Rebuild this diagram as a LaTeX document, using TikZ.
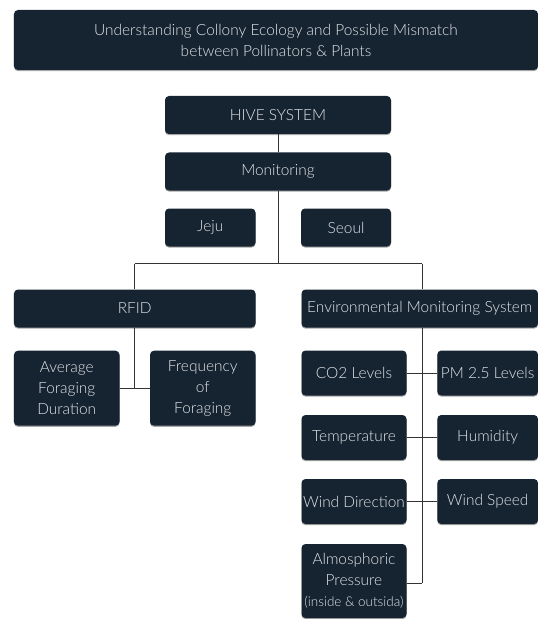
\documentclass[tikz,border=0pt]{standalone}
\usepackage{fontspec}
\setmainfont{Lato}[UprightFont=* Light]
\usetikzlibrary{shadows}
\definecolor{boxfill}{HTML}{162432}
\definecolor{boxtext}{HTML}{E2E5E8}
\definecolor{linec}{HTML}{333333}
\begin{document}
\begin{tikzpicture}[x=1bp,y=-1bp,
  box/.style={rectangle, rounded corners=4bp, fill=boxfill, text=boxtext,
    inner sep=0pt, align=center, font=\fontsize{15.5}{21}\selectfont,
    drop shadow={shadow xshift=0bp, shadow yshift=-1.2bp, fill=black!35, opacity=1}},
  conn/.style={draw=linec, line width=0.8bp}]
\useasboundingbox (0,0) rectangle (538,619);
% title
\node[box, minimum width=524bp, minimum height=60bp] (title) at (276,40)
  {Understanding Collony Ecology and Possible Mismatch\\between Pollinators \& Plants};
% top chain
\node[box, minimum width=226bp, minimum height=38bp] (hive) at (278,115) {HIVE SYSTEM};
\node[box, minimum width=226bp, minimum height=38bp] (mon) at (278,171.5) {Monitoring};
\node[box, minimum width=90.5bp, minimum height=38bp] (jeju) at (210.25,227.5) {Jeju};
\node[box, minimum width=90bp, minimum height=38bp] (seoul) at (346,227.5) {Seoul};
% second level
\node[box, minimum width=241.5bp, minimum height=38bp] (rfid) at (134.75,308.5) {RFID};
\node[box, minimum width=236.5bp, minimum height=38bp] (ems) at (419.75,308.5) {Environmental Monitoring System};
% RFID children
\node[box, minimum width=105.5bp, minimum height=75bp] (afd) at (66.75,388.2) {Average\\Foraging\\Duration};
\node[box, minimum width=105.5bp, minimum height=75bp] (fof) at (202.75,388.2) {Frequency\\of\\Foraging};
% EMS children
\node[box, minimum width=105bp, minimum height=45bp] (co2) at (354,373) {CO2 Levels};
\node[box, minimum width=100.7bp, minimum height=45bp] (pm) at (487.65,373) {PM 2.5 Levels};
\node[box, minimum width=105bp, minimum height=45bp] (temp) at (354,437.5) {Temperature};
\node[box, minimum width=100.7bp, minimum height=45bp] (hum) at (487.65,437.5) {Humidity};
\node[box, minimum width=105bp, minimum height=45bp] (wdir) at (354,501.5) {Wind Direction};
\node[box, minimum width=100.7bp, minimum height=45bp] (wspd) at (487.65,501.5) {Wind Speed};
\node[box, minimum width=105bp, minimum height=74bp] (atm) at (354,581)
  {Almosphoric\\Pressure\\{\fontsize{13.5}{15}\selectfont (inside \& outsida)}};
% coordinates
\coordinate (split) at (278,263.7);
\coordinate (rfidtop) at (134.75,263.7);
\coordinate (emstop) at (422,263.7);
\coordinate (trunktop) at (422,327.5);
\coordinate (trunkbot) at (422,583);
% connectors
\draw[conn] (hive.south) -- (mon.north);
\draw[conn] (mon.south) -- (split);
\draw[conn] (rfidtop) -- (emstop);
\draw[conn] (rfidtop) -- (rfid.north);
\draw[conn] (emstop) -- (emstop |- ems.north);
\draw[conn] (rfid.south) -- (rfid.south |- afd.east);
\draw[conn] (afd.east) -- (fof.west);
\draw[conn] (trunktop) -- (trunkbot);
\draw[conn] (co2.east) -- (pm.west);
\draw[conn] (temp.east) -- (hum.west);
\draw[conn] (wdir.east) -- (wspd.west);
\draw[conn] (atm.east |- trunkbot) -- (trunkbot);
\end{tikzpicture}
\end{document}
